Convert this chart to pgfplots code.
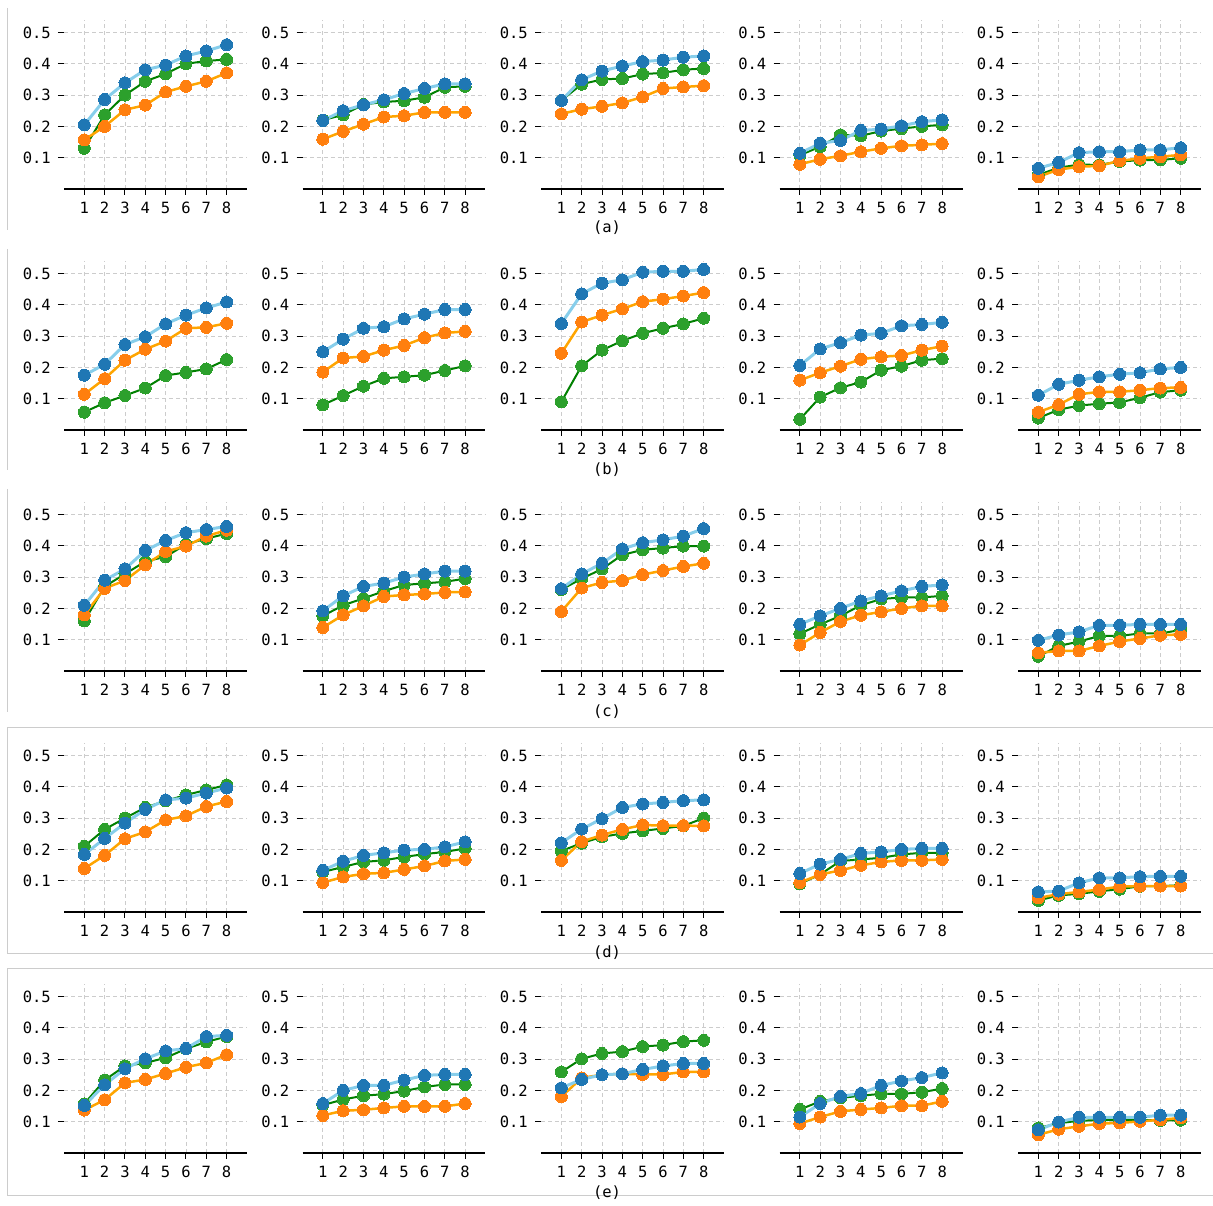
\documentclass[border=0pt]{standalone}
\usepackage{pgfplots}
\usepackage{pgfplotstable}
\pgfplotsset{compat=1.18}
\usepackage{fontspec}
\setmainfont{DejaVu Sans Mono}
\definecolor{skyb}{HTML}{87CEEB}
\definecolor{tabblue}{HTML}{1F77B4}
\definecolor{orgl}{HTML}{FFA500}
\definecolor{taborange}{HTML}{FF7F0E}
\definecolor{grnl}{HTML}{008000}
\definecolor{tabgreen}{HTML}{2CA02C}
\definecolor{frame}{HTML}{CCCCCC}
\newcommand{\tfont}{\fontsize{15.5}{18}\selectfont}
\pgfplotsset{
  panelstyle/.style={
    scale only axis, width=183pt, height=169pt, anchor=south west,
    xmin=0, xmax=9, ymin=0, ymax=0.54,
    xtick={1,2,3,4,5,6,7,8}, xticklabels={1,2,3,4,5,6,7,8},
    ytick={0.1,0.2,0.3,0.4,0.5}, yticklabels={0.1,0.2,0.3,0.4,0.5},
    axis x line=bottom, axis y line=left,
    axis line style={-},
    x axis line style={black, line width=1.2pt},
    y axis line style={draw=none},
    tick align=outside, major tick length=6pt,
    tick style={black, line width=1pt},
    grid=major, grid style={dash pattern=on 4pt off 3pt, color=frame, line width=0.9pt},
    xticklabel style={font=\tfont, anchor=north, inner sep=0pt, yshift=-7pt},
    yticklabel style={font=\tfont, anchor=east, inner sep=0pt, xshift=-7pt},
    clip=false,
  },
  gl/.style={color=grnl, line width=2pt, mark=*, mark size=6pt, mark options={fill=tabgreen, draw=tabgreen, line width=0pt}},
  ol/.style={color=orgl, line width=2.5pt, mark=*, mark size=6pt, mark options={fill=taborange, draw=taborange, line width=0pt}},
  bl/.style={color=skyb, line width=3pt, mark=*, mark size=6pt, mark options={fill=tabblue, draw=tabblue, line width=0pt}},
}
\newcommand{\panel}[3]{%
\begin{axis}[panelstyle, at={(64pt+238.5pt*#1, 1016pt-241pt*#2)}]
\addplot[gl] table[x=x,y=g]{#3};
\addplot[ol] table[x=x,y=o]{#3};
\addplot[bl] table[x=x,y=b]{#3};
\end{axis}}

% row (a)
\pgfplotstableread{
x g o b
1 0.130 0.157 0.205
2 0.237 0.200 0.286
3 0.300 0.253 0.339
4 0.344 0.268 0.381
5 0.368 0.310 0.396
6 0.400 0.328 0.425
7 0.409 0.344 0.441
8 0.414 0.371 0.461
}\TaA
\pgfplotstableread{
x g o b
1 0.220 0.159 0.219
2 0.237 0.184 0.250
3 0.270 0.207 0.269
4 0.278 0.230 0.285
5 0.282 0.234 0.305
6 0.293 0.245 0.321
7 0.325 0.245 0.336
8 0.328 0.245 0.336
}\TaB
\pgfplotstableread{
x g o b
1 0.283 0.240 0.283
2 0.335 0.255 0.349
3 0.350 0.264 0.377
4 0.353 0.275 0.393
5 0.367 0.294 0.407
6 0.371 0.321 0.412
7 0.381 0.326 0.421
8 0.385 0.330 0.425
}\TaC
\pgfplotstableread{
x g o b
1 0.108 0.079 0.114
2 0.135 0.095 0.146
3 0.173 0.106 0.155
4 0.170 0.119 0.187
5 0.185 0.130 0.191
6 0.193 0.138 0.202
7 0.200 0.141 0.215
8 0.205 0.145 0.221
}\TaD
\pgfplotstableread{
x g o b
1 0.045 0.039 0.066
2 0.068 0.062 0.085
3 0.078 0.071 0.116
4 0.077 0.074 0.119
5 0.088 0.090 0.119
6 0.092 0.098 0.125
7 0.093 0.103 0.125
8 0.098 0.109 0.132
}\TaE
% row (b)
\pgfplotstableread{
x g o b
1 0.057 0.114 0.175
2 0.087 0.164 0.210
3 0.110 0.223 0.273
4 0.134 0.258 0.298
5 0.174 0.284 0.339
6 0.184 0.325 0.367
7 0.195 0.328 0.390
8 0.225 0.341 0.409
}\TbA
\pgfplotstableread{
x g o b
1 0.080 0.185 0.250
2 0.110 0.230 0.290
3 0.140 0.235 0.325
4 0.165 0.255 0.330
5 0.170 0.270 0.355
6 0.175 0.295 0.370
7 0.190 0.310 0.385
8 0.205 0.315 0.385
}\TbB
\pgfplotstableread{
x g o b
1 0.090 0.245 0.340
2 0.205 0.345 0.435
3 0.255 0.367 0.469
4 0.285 0.387 0.480
5 0.309 0.410 0.504
6 0.325 0.418 0.507
7 0.339 0.428 0.507
8 0.357 0.439 0.513
}\TbC
\pgfplotstableread{
x g o b
1 0.034 0.159 0.206
2 0.105 0.183 0.259
3 0.135 0.204 0.279
4 0.153 0.226 0.303
5 0.191 0.234 0.309
6 0.204 0.238 0.333
7 0.223 0.255 0.337
8 0.228 0.268 0.344
}\TbD
\pgfplotstableread{
x g o b
1 0.038 0.057 0.111
2 0.065 0.081 0.146
3 0.078 0.114 0.159
4 0.084 0.122 0.170
5 0.088 0.122 0.178
6 0.103 0.127 0.183
7 0.121 0.134 0.195
8 0.127 0.136 0.200
}\TbE
% row (c)
\pgfplotstableread{
x g o b
1 0.160 0.179 0.210
2 0.270 0.264 0.290
3 0.310 0.289 0.326
4 0.350 0.339 0.385
5 0.365 0.382 0.417
6 0.405 0.399 0.442
7 0.423 0.431 0.452
8 0.439 0.450 0.462
}\TcA
\pgfplotstableread{
x g o b
1 0.176 0.139 0.192
2 0.210 0.179 0.240
3 0.232 0.208 0.270
4 0.255 0.238 0.281
5 0.275 0.243 0.300
6 0.280 0.246 0.310
7 0.285 0.251 0.319
8 0.295 0.253 0.319
}\TcB
\pgfplotstableread{
x g o b
1 0.260 0.190 0.263
2 0.295 0.265 0.310
3 0.326 0.283 0.344
4 0.371 0.289 0.390
5 0.387 0.308 0.410
6 0.393 0.321 0.419
7 0.399 0.334 0.431
8 0.399 0.344 0.455
}\TcC
\pgfplotstableread{
x g o b
1 0.119 0.083 0.149
2 0.149 0.123 0.176
3 0.176 0.158 0.200
4 0.210 0.178 0.224
5 0.230 0.189 0.240
6 0.235 0.200 0.256
7 0.235 0.208 0.270
8 0.240 0.208 0.275
}\TcD
\pgfplotstableread{
x g o b
1 0.047 0.058 0.098
2 0.080 0.064 0.115
3 0.094 0.064 0.125
4 0.112 0.080 0.146
5 0.112 0.094 0.146
6 0.120 0.104 0.149
7 0.120 0.114 0.149
8 0.131 0.117 0.149
}\TcE
% row (d)
\pgfplotstableread{
x g o b
1 0.210 0.139 0.184
2 0.264 0.181 0.235
3 0.300 0.234 0.284
4 0.334 0.256 0.328
5 0.355 0.294 0.358
6 0.374 0.307 0.364
7 0.390 0.337 0.380
8 0.406 0.353 0.396
}\TdA
\pgfplotstableread{
x g o b
1 0.128 0.094 0.133
2 0.144 0.112 0.162
3 0.160 0.122 0.181
4 0.165 0.125 0.189
5 0.176 0.136 0.198
6 0.185 0.147 0.200
7 0.192 0.163 0.208
8 0.203 0.168 0.224
}\TdB
\pgfplotstableread{
x g o b
1 0.195 0.165 0.221
2 0.220 0.225 0.265
3 0.240 0.246 0.298
4 0.251 0.264 0.334
5 0.259 0.278 0.345
6 0.267 0.276 0.350
7 0.275 0.276 0.356
8 0.300 0.275 0.358
}\TdC
\pgfplotstableread{
x g o b
1 0.090 0.094 0.123
2 0.120 0.120 0.153
3 0.163 0.133 0.168
4 0.168 0.149 0.187
5 0.173 0.160 0.192
6 0.184 0.165 0.200
7 0.189 0.165 0.203
8 0.189 0.168 0.203
}\TdD
\pgfplotstableread{
x g o b
1 0.037 0.045 0.064
2 0.053 0.057 0.067
3 0.058 0.064 0.093
4 0.066 0.072 0.109
5 0.073 0.081 0.109
6 0.082 0.083 0.113
7 0.083 0.083 0.114
8 0.085 0.083 0.114
}\TdE
% row (e)
\pgfplotstableread{
x g o b
1 0.157 0.137 0.152
2 0.233 0.170 0.218
3 0.278 0.224 0.269
4 0.288 0.235 0.301
5 0.304 0.254 0.326
6 0.333 0.274 0.334
7 0.355 0.288 0.372
8 0.372 0.314 0.376
}\TeA
\pgfplotstableread{
x g o b
1 0.153 0.120 0.158
2 0.171 0.135 0.200
3 0.183 0.138 0.216
4 0.188 0.144 0.216
5 0.198 0.149 0.233
6 0.211 0.149 0.248
7 0.219 0.149 0.251
8 0.219 0.158 0.251
}\TeB
\pgfplotstableread{
x g o b
1 0.259 0.180 0.208
2 0.301 0.240 0.235
3 0.318 0.250 0.250
4 0.324 0.253 0.253
5 0.340 0.251 0.267
6 0.345 0.251 0.278
7 0.356 0.259 0.286
8 0.360 0.259 0.286
}\TeC
\pgfplotstableread{
x g o b
1 0.139 0.094 0.115
2 0.165 0.115 0.158
3 0.176 0.133 0.181
4 0.183 0.139 0.190
5 0.189 0.144 0.216
6 0.189 0.151 0.230
7 0.194 0.151 0.241
8 0.206 0.165 0.256
}\TeD
\pgfplotstableread{
x g o b
1 0.080 0.058 0.074
2 0.095 0.076 0.099
3 0.103 0.085 0.114
4 0.105 0.094 0.114
5 0.106 0.096 0.114
6 0.106 0.101 0.114
7 0.104 0.106 0.121
8 0.105 0.112 0.121
}\TeE

\begin{document}
\begin{tikzpicture}
\path[use as bounding box] (0,0) rectangle (1213pt,1205pt);
% subfigure frames
\draw[frame, line width=1pt] (7pt,1197pt) -- (7pt,975pt);
\draw[frame, line width=1pt] (7pt,956pt) -- (7pt,735pt);
\draw[frame, line width=1pt] (7pt,716pt) -- (7pt,493pt);
\draw[frame, line width=1pt] (1215pt,477pt) -- (7pt,477pt) -- (7pt,251pt) -- (1215pt,251pt);
\draw[frame, line width=1pt] (1215pt,236pt) -- (7pt,236pt) -- (7pt,10pt) -- (1215pt,10pt);
\panel{0}{0}{\TaA}\panel{1}{0}{\TaB}\panel{2}{0}{\TaC}\panel{3}{0}{\TaD}\panel{4}{0}{\TaE}
\panel{0}{1}{\TbA}\panel{1}{1}{\TbB}\panel{2}{1}{\TbC}\panel{3}{1}{\TbD}\panel{4}{1}{\TbE}
\panel{0}{2}{\TcA}\panel{1}{2}{\TcB}\panel{2}{2}{\TcC}\panel{3}{2}{\TcD}\panel{4}{2}{\TcE}
\panel{0}{3}{\TdA}\panel{1}{3}{\TdB}\panel{2}{3}{\TdC}\panel{3}{3}{\TdD}\panel{4}{3}{\TdE}
\panel{0}{4}{\TeA}\panel{1}{4}{\TeB}\panel{2}{4}{\TeC}\panel{3}{4}{\TeD}\panel{4}{4}{\TeE}
\node[font=\tfont, inner sep=0pt] at (607pt,977pt) {(a)};
\node[font=\tfont, inner sep=0pt] at (607pt,735pt) {(b)};
\node[font=\tfont, inner sep=0pt] at (607pt,493pt) {(c)};
\node[font=\tfont, inner sep=0pt] at (607pt,252pt) {(d)};
\node[font=\tfont, inner sep=0pt] at (607pt,12pt) {(e)};
\end{tikzpicture}
\end{document}
